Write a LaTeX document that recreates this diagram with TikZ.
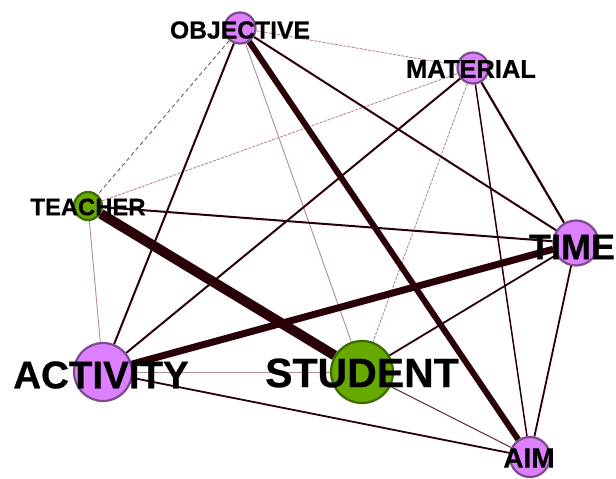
\documentclass[tikz,border=0pt]{standalone}
\usepackage{fontspec}
\setmainfont{Liberation Sans}[BoldFeatures={FakeBold=0.6}]
\usetikzlibrary{backgrounds}
\definecolor{edgedark}{RGB}{42,0,8}
\definecolor{edgemid}{RGB}{90,40,50}
\definecolor{edgelight}{RGB}{178,140,150}
\definecolor{violetfill}{RGB}{221,128,255}
\definecolor{violetline}{RGB}{125,75,140}
\definecolor{greenfill}{RGB}{102,170,0}
\definecolor{greenline}{RGB}{60,105,0}
\tikzset{
  x=1pt, y=-1pt,
  vnode/.style={circle, draw=violetline, fill=violetfill, line width=2.2pt, inner sep=0pt, minimum size=#1},
  gnode/.style={circle, draw=greenline, fill=greenfill, line width=2.2pt, inner sep=0pt, minimum size=#1},
  tag/.style={font=\bfseries\fontsize{#1}{#1}\selectfont, text=black, inner sep=0pt},
  strong/.style={draw=edgedark, line width=#1},
  faint/.style={draw=edgelight, line width=0.9pt},
  faintdash/.style={draw=edgelight, line width=0.9pt, dash pattern=on 3pt off 1.2pt},
}
\begin{document}
\begin{tikzpicture}
\useasboundingbox (0,0) rectangle (616,479);

% vertices
\node[vnode=31pt] (objective) at (240,28) {};
\node[vnode=31pt] (material)  at (473,68) {};
\node[gnode=28pt] (teacher)   at (88,206) {};
\node[vnode=45pt] (time)      at (576,243) {};
\node[vnode=58pt] (activity)  at (103,372) {};
\node[gnode=62pt] (student)   at (362,372) {};
\node[vnode=40pt] (aim)       at (530,457) {};

% edges, weighted by line width
\begin{scope}[on background layer]
  \fill[white] (0,0) rectangle (616,479);
  \draw[faint] (activity) -- (student);
  \draw[faint] (teacher) -- (activity);
  \draw[faint] (objective) -- (student);
  \draw[faintdash] (material) -- (student);
  \draw[faintdash] (teacher) -- (material);
  \draw[faintdash] (objective) -- (material);
  \draw[draw=edgemid!80!white, line width=0.9pt, dash pattern=on 4pt off 3pt] (objective) -- (teacher);
  \draw[draw=edgemid, line width=1pt] (student) -- (aim);
  \draw[strong=1.5pt] (material) -- (aim);
  \draw[strong=1.8pt] (activity) -- (aim);
  \draw[strong=1.8pt] (time) -- (aim);
  \draw[strong=1.8pt] (student) -- (time);
  \draw[strong=2pt] (teacher) -- (time);
  \draw[strong=2.2pt] (material) -- (time);
  \draw[strong=2pt] (material) -- (activity);
  \draw[strong=2pt] (objective) -- (time);
  \draw[strong=2pt] (objective) -- (activity);
  \draw[strong=6pt] (objective) -- (aim);
  \draw[strong=7pt] (activity) -- (time);
  \draw[strong=10pt] (teacher) -- (student);
\end{scope}

% vertex labels
\node[tag=24.7] (lobjective) at (240,30) {OBJECTIVE};
\node[tag=25.5] (lmaterial)  at (471,69) {MATERIAL};
\node[tag=23.8] (lteacher)   at (88,207) {TEACHER};
\node[tag=36]   (ltime)      at (572,247) {TIME};
\node[tag=38.5] (lactivity)  at (101,375) {ACTIVITY};
\node[tag=41]   (lstudent)   at (362,373) {STUDENT};
\node[tag=28]   (laim)       at (529,458) {AIM};
\end{tikzpicture}
\end{document}
